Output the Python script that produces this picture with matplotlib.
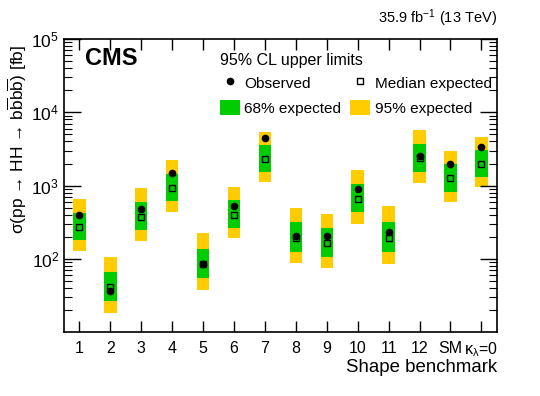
import numpy as np
import matplotlib
matplotlib.use('Agg')
import matplotlib.pyplot as plt
from matplotlib.patches import Patch
from matplotlib.lines import Line2D
from matplotlib.ticker import LogLocator, NullFormatter

plt.rcParams['font.family'] = ['Liberation Sans', 'DejaVu Sans']
plt.rcParams['mathtext.fontset'] = 'custom'
plt.rcParams['mathtext.rm'] = 'Liberation Sans'
plt.rcParams['mathtext.it'] = 'Liberation Sans:italic'
plt.rcParams['mathtext.bf'] = 'Liberation Sans:bold'

labels = ['1', '2', '3', '4', '5', '6', '7', '8', '9', '10', '11', '12', 'SM', r'κ$_{\rm λ}$=0']
observed = [398, 36.6, 476, 1504, 85.5, 533, 4520, 208, 206, 910, 233, 2565, 1958, 3404]
median = [271, 41.9, 374, 939, 85.5, 402, 2291, 195, 164, 665, 195, 2366, 1274, 1977]
lo68 = [180, 26.7, 247, 618, 54.6, 267, 1538, 126, 105, 433, 126, 1538, 820, 1315]
hi68 = [424, 66, 600, 1445, 138, 638, 3590, 317, 265, 1065, 323, 3707, 1958, 3070]
lo95 = [127, 18.5, 174, 441, 37.4, 191, 1112, 87, 74.6, 303, 86, 1088, 594, 959]
hi95 = [652, 105, 930, 2244, 224, 969, 5454, 501, 415, 1653, 524, 5754, 2998, 4656]

green = '#00cc00'
yellow = '#ffcc00'

fig = plt.figure(figsize=(5.4, 3.96), dpi=100)
ax = fig.add_axes([0.1185, 0.161, 0.8015, 0.7405])

x = np.arange(1, len(labels) + 1)
w = 0.4
lo95 = np.array(lo95); hi95 = np.array(hi95)
lo68 = np.array(lo68); hi68 = np.array(hi68)
ax.bar(x, hi95 - lo95, bottom=lo95, width=w, color=yellow, linewidth=0, zorder=1)
ax.bar(x, hi68 - lo68, bottom=lo68, width=w, color=green, linewidth=0, zorder=2)
ax.plot(x, median, 's', mfc='none', mec='black', mew=1.0, ms=5, zorder=3, linestyle='none')
ax.plot(x, observed, 'o', color='black', ms=4.5, zorder=4, linestyle='none')

ax.set_yscale('log')
ax.set_ylim(10, 1e5)
ax.set_xlim(0.5, len(labels) + 0.5)
ax.set_xticks(x)
ax.set_xticklabels(labels, fontsize=11.5)
ax.set_yticks([1e2, 1e3, 1e4, 1e5])
ax.set_yticklabels([r'$10^{2}$', r'$10^{3}$', r'$10^{4}$', r'$10^{5}$'], fontsize=12.5)
ax.yaxis.set_minor_locator(LogLocator(base=10, subs=np.arange(2, 10)))
ax.yaxis.set_minor_formatter(NullFormatter())
ax.tick_params(axis='y', which='major', direction='in', length=12, right=True, left=True, width=1)
ax.tick_params(axis='y', which='minor', direction='in', length=6, right=True, left=True, width=0.8)
ax.tick_params(axis='x', which='major', direction='in', length=8, top=True, bottom=True, width=1, pad=6)
ax.tick_params(axis='x', which='minor', bottom=False, top=False)
for s in ax.spines.values():
    s.set_linewidth(1.2)

fig.text(17 / 540, 1 - 139 / 396,
         r'σ(pp → HH → b$\overline{\rm b}$b$\overline{\rm b}$) [fb]',
         rotation=90, ha='center', va='center', fontsize=12.5)
ax.set_xlabel('Shape benchmark', fontsize=13.4, loc='right')
ax.xaxis.set_label_coords(1.0, -0.09)

ax.text(0.048, 0.934, 'CMS', transform=ax.transAxes, fontsize=17, fontweight='bold', va='center', ha='left')
fig.text(0.92, 0.955, r'35.9 fb$^{-1}$ (13 TeV)', ha='right', va='center', fontsize=10.5)

ax.text(0.36, 0.925, '95% CL upper limits', transform=ax.transAxes, fontsize=11.5, va='center', ha='left')
handles = [Line2D([], [], marker='o', color='black', linestyle='none', ms=4.5),
           Patch(facecolor=green, edgecolor='none'),
           Line2D([], [], marker='s', mfc='none', mec='black', linestyle='none', ms=5),
           Patch(facecolor=yellow, edgecolor='none')]
names = ['Observed', '68% expected', 'Median expected', '95% expected']
ax.legend(handles, names, loc='upper left', bbox_to_anchor=(0.36, 0.877), ncol=2, frameon=False,
          fontsize=11.1, handlelength=1.3, handleheight=1.1, columnspacing=0.55, labelspacing=0.6,
          borderaxespad=0, borderpad=0, handletextpad=0.3)

fig.savefig('out.png', dpi=100)
